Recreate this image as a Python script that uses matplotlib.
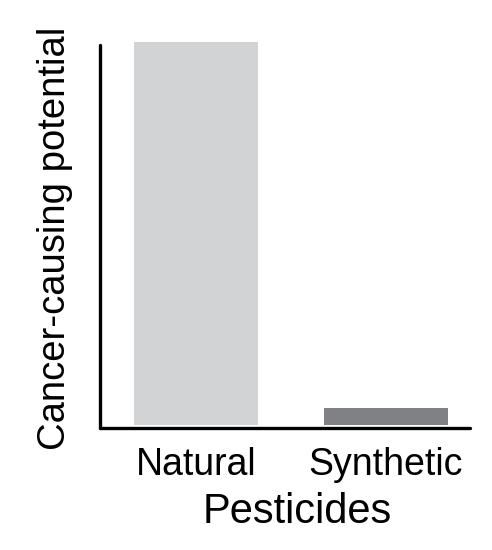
import matplotlib
matplotlib.use("Agg")
import matplotlib.pyplot as plt

categories = ["Natural", "Synthetic"]
values = [100, 4.5]
colors = ["#d2d3d5", "#808184"]

plt.rcParams['font.family'] = ['Liberation Sans', 'DejaVu Sans']

W, H = 492, 550
fig = plt.figure(figsize=(W / 100, H / 100), dpi=100)
ax = fig.add_axes([100 / W, 1 - 428 / H, 370 / W, 383 / H])

x = range(len(categories))
ax.bar(x, values, width=0.65, color=colors, clip_on=False, zorder=1)
ax.set_ylim(-3 / 383 * 100, 380 / 383 * 100)
ax.set_xlim(-0.505, 1.442)

for s in ["top", "right"]:
    ax.spines[s].set_visible(False)
for s in ["left", "bottom"]:
    ax.spines[s].set_linewidth(2.4)
    ax.spines[s].set_color("black")
    ax.spines[s].set_capstyle("round")
    ax.spines[s].set_zorder(3)

ax.set_yticks([])
ax.set_xticks(list(x))
ax.set_xticklabels(categories, fontsize=27)
ax.tick_params(axis="x", length=0, pad=14)

ax.set_xlabel("Pesticides", fontsize=30)
ax.xaxis.set_label_coords((297 - 100) / 370, -(512 - 428) / 383)
ax.xaxis.label.set_va("center")
ax.set_ylabel("Cancer-causing potential", fontsize=27.5)
ax.yaxis.set_label_coords(-(100 - 55) / 370, (428 - 238) / 383)
ax.yaxis.label.set_va("center")

fig.savefig("out.png", dpi=100)
